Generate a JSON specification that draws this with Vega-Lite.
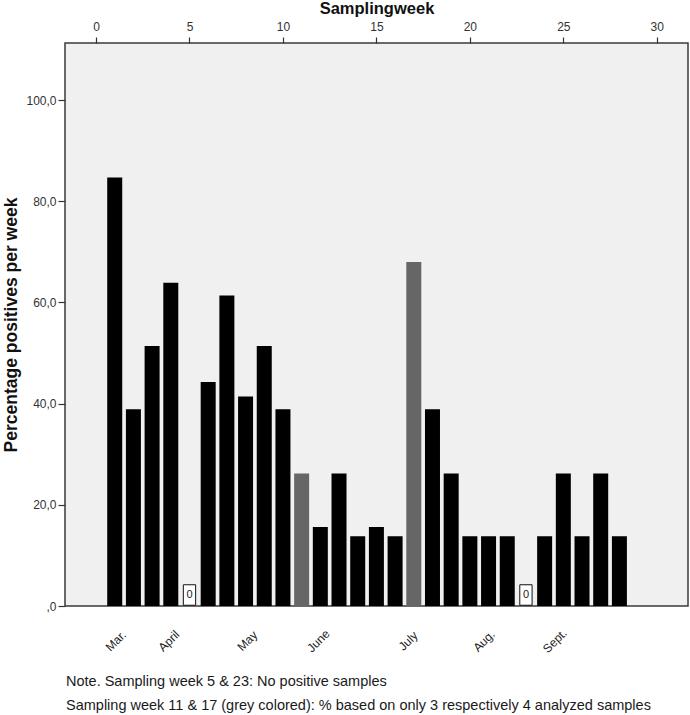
{
  "$schema": "https://vega.github.io/schema/vega-lite/v6.json",
  "width": 623,
  "height": 563,
  "autosize": {"type": "none"},
  "padding": {"left": 65, "top": 43, "right": 2, "bottom": 109},
  "background": "white",
  "config": {
    "font": "Liberation Sans",
    "view": {"fill": "#f0f0f0", "stroke": "#3a3a3a", "strokeWidth": 1.5},
    "axis": {
      "labelFont": "Liberation Sans",
      "titleFont": "Liberation Sans",
      "labelColor": "#333333",
      "titleColor": "#111111",
      "tickColor": "#333333",
      "tickWidth": 1.2,
      "grid": false,
      "domain": false
    }
  },
  "title": {
    "text": [
      "Note. Sampling week 5 & 23: No positive samples",
      "Sampling week 11 & 17 (grey colored): % based on only 3 respectively 4 analyzed samples"
    ],
    "orient": "bottom",
    "anchor": "start",
    "frame": "group",
    "offset": 20,
    "dx": 1,
    "font": "Liberation Sans",
    "fontSize": 14.5,
    "fontWeight": "normal",
    "color": "#1a1a1a",
    "lineHeight": 24
  },
  "datasets": {
    "weeks": [
      {"week": 1, "pct": 84.7, "group": "black"},
      {"week": 2, "pct": 38.9, "group": "black"},
      {"week": 3, "pct": 51.4, "group": "black"},
      {"week": 4, "pct": 63.9, "group": "black"},
      {"week": 5, "pct": 0, "group": "black"},
      {"week": 6, "pct": 44.3, "group": "black"},
      {"week": 7, "pct": 61.4, "group": "black"},
      {"week": 8, "pct": 41.4, "group": "black"},
      {"week": 9, "pct": 51.4, "group": "black"},
      {"week": 10, "pct": 38.9, "group": "black"},
      {"week": 11, "pct": 26.2, "group": "grey"},
      {"week": 12, "pct": 15.6, "group": "black"},
      {"week": 13, "pct": 26.2, "group": "black"},
      {"week": 14, "pct": 13.8, "group": "black"},
      {"week": 15, "pct": 15.6, "group": "black"},
      {"week": 16, "pct": 13.8, "group": "black"},
      {"week": 17, "pct": 68.0, "group": "grey"},
      {"week": 18, "pct": 38.9, "group": "black"},
      {"week": 19, "pct": 26.2, "group": "black"},
      {"week": 20, "pct": 13.8, "group": "black"},
      {"week": 21, "pct": 13.8, "group": "black"},
      {"week": 22, "pct": 13.8, "group": "black"},
      {"week": 23, "pct": 0, "group": "black"},
      {"week": 24, "pct": 13.8, "group": "black"},
      {"week": 25, "pct": 26.2, "group": "black"},
      {"week": 26, "pct": 13.8, "group": "black"},
      {"week": 27, "pct": 26.2, "group": "black"},
      {"week": 28, "pct": 13.8, "group": "black"}
    ],
    "months": [
      {"month": "Mar.", "week": 1.06},
      {"month": "April", "week": 3.9},
      {"month": "May", "week": 8.1},
      {"month": "June", "week": 11.9},
      {"month": "July", "week": 16.7},
      {"month": "Aug.", "week": 20.76},
      {"month": "Sept.", "week": 24.55}
    ]
  },
  "resolve": {"axis": {"x": "independent", "y": "independent"}},
  "layer": [
    {
      "data": {"name": "weeks"},
      "mark": {"type": "bar", "size": 15},
      "encoding": {
        "x": {
          "field": "week",
          "type": "quantitative",
          "scale": {"domain": [-1.66, 31.67], "nice": false, "zero": false, "padding": 0},
          "axis": {
            "orient": "top",
            "title": "Samplingweek",
            "values": [0, 5, 10, 15, 20, 25, 30],
            "tickSize": 6,
            "labelPadding": 4,
            "labelFontSize": 12,
            "titleFontSize": 16.5,
            "titleFontWeight": "bold",
            "titlePadding": 4
          }
        },
        "y": {
          "field": "pct",
          "type": "quantitative",
          "scale": {"domain": [0, 111.3], "nice": false},
          "axis": {
            "title": "Percentage positives per week",
            "values": [0, 20, 40, 60, 80, 100],
            "labelExpr": "datum.value == 0 ? ',0' : replace(format(datum.value, '.1f'), '.', ',')",
            "tickSize": 7,
            "labelPadding": 2,
            "labelFontSize": 12,
            "titleFontSize": 17.5,
            "titleFontWeight": "bold",
            "titlePadding": 5
          }
        },
        "color": {
          "field": "group",
          "type": "nominal",
          "scale": {"domain": ["black", "grey"], "range": ["#000000", "#666666"]},
          "legend": null
        }
      }
    },
    {
      "data": {"name": "weeks"},
      "transform": [{"filter": "datum.pct == 0"}],
      "mark": {
        "type": "point",
        "shape": "M-0.6,-1H0.6V1H-0.6Z",
        "size": 420,
        "filled": true,
        "fill": "white",
        "stroke": "#111111",
        "strokeWidth": 1,
        "opacity": 1,
        "yOffset": -11
      },
      "encoding": {
        "x": {"field": "week", "type": "quantitative", "axis": null},
        "y": {"field": "pct", "type": "quantitative", "axis": null}
      }
    },
    {
      "data": {"name": "weeks"},
      "transform": [{"filter": "datum.pct == 0"}],
      "mark": {
        "type": "text",
        "fontSize": 11,
        "color": "#222222",
        "baseline": "middle",
        "align": "center",
        "yOffset": -11
      },
      "encoding": {
        "x": {"field": "week", "type": "quantitative", "axis": null},
        "y": {"field": "pct", "type": "quantitative", "axis": null},
        "text": {"field": "pct", "type": "quantitative", "format": "d"}
      }
    },
    {
      "data": {"name": "months"},
      "mark": {
        "type": "text",
        "angle": 315,
        "align": "center",
        "baseline": "middle",
        "fontSize": 12,
        "color": "#222222",
        "yOffset": 35
      },
      "encoding": {
        "x": {"field": "week", "type": "quantitative", "axis": null},
        "y": {"datum": 0, "type": "quantitative", "axis": null},
        "text": {"field": "month", "type": "nominal"}
      }
    }
  ]
}
